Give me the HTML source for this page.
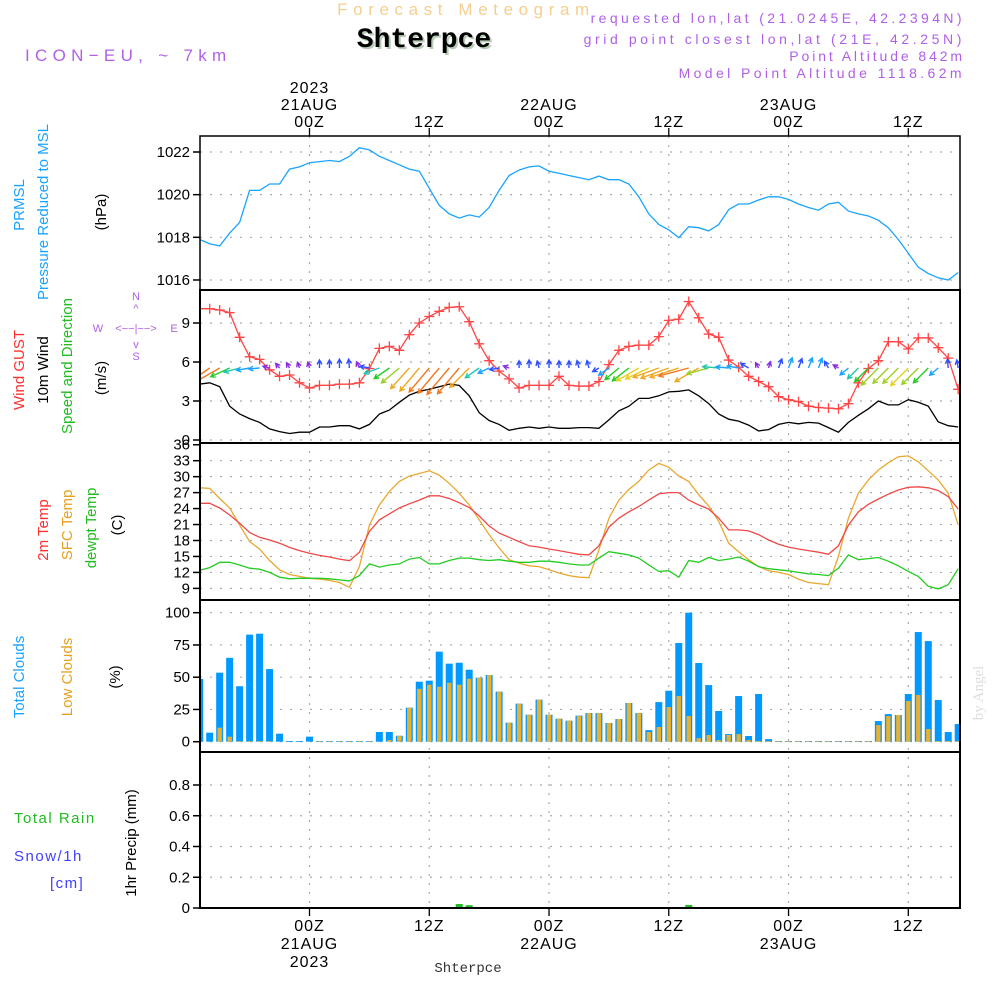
<!DOCTYPE html>
<html><head><meta charset="utf-8"><title>Forecast Meteogram Shterpce</title>
<style>
html,body{margin:0;padding:0;background:#fff;}
svg{display:block;font-family:"Liberation Sans",sans-serif;}
</style></head>
<body>
<svg id="chart" width="1000" height="1000" viewBox="0 0 1000 1000">
  <g>
    <text x="466" y="15" text-anchor="middle" font-size="17" fill="#f5cf90" letter-spacing="5.6">Forecast Meteogram</text>
    <text x="426" y="49" text-anchor="middle" font-size="28" font-weight="bold" font-family="Liberation Mono, monospace" fill="#b8ccb8">Shterpce</text>
    <text x="424" y="47" text-anchor="middle" font-size="28" font-weight="bold" font-family="Liberation Mono, monospace" fill="#000">Shterpce</text>
    <text x="25" y="61" font-size="17" fill="#b060e8" letter-spacing="5.3">ICON−EU, ~ 7km</text>
    <text x="965" y="23" text-anchor="end" font-size="14" fill="#b060e8" letter-spacing="3.4">requested lon,lat (21.0245E, 42.2394N)</text>
    <text x="965" y="44" text-anchor="end" font-size="14" fill="#b060e8" letter-spacing="3.6">grid point closest lon,lat (21E, 42.25N)</text>
    <text x="965" y="61" text-anchor="end" font-size="14" fill="#b060e8" letter-spacing="2.9">Point Altitude 842m</text>
    <text x="965" y="78" text-anchor="end" font-size="14" fill="#b060e8" letter-spacing="3.4">Model Point Altitude 1118.62m</text>
  </g>
  <g id="grid"></g>
  <g id="marks"></g>
  <g id="frames"></g>
  <g id="labels">
    <text transform="translate(24,205) rotate(-90)" text-anchor="middle" font-size="15" fill="#1aa3ff">PRMSL</text>
    <text transform="translate(48,212) rotate(-90)" text-anchor="middle" font-size="15" fill="#1aa3ff">Pressure Reduced to MSL</text>
    <text transform="translate(106,212) rotate(-90)" text-anchor="middle" font-size="15" fill="#000">(hPa)</text>
    <text transform="translate(24,370) rotate(-90)" text-anchor="middle" font-size="15" fill="#ff3030">Wind GUST</text>
    <text transform="translate(48,370) rotate(-90)" text-anchor="middle" font-size="15" fill="#000">10m Wind</text>
    <text transform="translate(72,366) rotate(-90)" text-anchor="middle" font-size="15" fill="#22bb22">Speed and Direction</text>
    <text transform="translate(106,378) rotate(-90)" text-anchor="middle" font-size="15" fill="#000">(m/s)</text>
    <g font-size="11" fill="#b060e8" text-anchor="middle">
      <text x="136" y="300">N</text><text x="136" y="312">^</text>
      <text x="136" y="332">&lt;−−|−−&gt;</text>
      <text x="98" y="332">W</text><text x="174" y="332">E</text>
      <text x="136" y="348">v</text><text x="136" y="360">S</text>
    </g>
    <text transform="translate(48,530) rotate(-90)" text-anchor="middle" font-size="15" fill="#ff3030">2m Temp</text>
    <text transform="translate(72,525) rotate(-90)" text-anchor="middle" font-size="15" fill="#e8a020">SFC Temp</text>
    <text transform="translate(96,528) rotate(-90)" text-anchor="middle" font-size="15" fill="#22bb22">dewpt Temp</text>
    <text transform="translate(122,525) rotate(-90)" text-anchor="middle" font-size="15" fill="#000">(C)</text>
    <text transform="translate(24,677) rotate(-90)" text-anchor="middle" font-size="15" fill="#1aa3ff">Total Clouds</text>
    <text transform="translate(72,677) rotate(-90)" text-anchor="middle" font-size="15" fill="#e8a020">Low Clouds</text>
    <text transform="translate(120,677) rotate(-90)" text-anchor="middle" font-size="15" fill="#000">(%)</text>
    <text x="14" y="823" font-size="15" fill="#22bb22" letter-spacing="1.5">Total  Rain</text>
    <text x="14" y="861" font-size="15" fill="#4040ff" letter-spacing="1.5">Snow/1h</text>
    <text x="50" y="888" font-size="15" fill="#4040ff" letter-spacing="1.5">[cm]</text>
    <text transform="translate(136,843) rotate(-90)" text-anchor="middle" font-size="15" fill="#000">1hr Precip (mm)</text>
    <text x="468" y="972" text-anchor="middle" font-size="14" font-family="Liberation Mono, monospace" fill="#333">Shterpce</text>
    <text transform="translate(983,693) rotate(-90)" text-anchor="middle" font-size="15" font-family="Liberation Serif, serif" fill="#ddd">by Angel</text>
  </g>
</svg>
<script>
const hourStart = -11;
const timeTickHours = [0, 12, 24, 36, 48, 60];
const timeTickTop = [["2023","21AUG","00Z"],["12Z"],["22AUG","00Z"],["12Z"],["23AUG","00Z"],["12Z"]];
const timeTickBottom = [["00Z","21AUG","2023"],["12Z"],["00Z","22AUG"],["12Z"],["00Z","23AUG"],["12Z"]];
const pressureTicks = [1016, 1018, 1020, 1022];
const windTicks = [0, 3, 6, 9];
const tempTicks = [9, 12, 15, 18, 21, 24, 27, 30, 33, 36];
const cloudTicks = [0, 25, 50, 75, 100];
const precipTicks = [0, 0.2, 0.4, 0.6, 0.8];
const pressure = [1017.9,1017.7,1017.6,1018.2,1018.7,1020.2,1020.2,1020.5,1020.5,1021.2,1021.3,1021.5,1021.55,1021.6,1021.55,1021.8,1022.2,1022.1,1021.8,1021.6,1021.4,1021.2,1021.1,1020.3,1019.5,1019.1,1018.9,1019.05,1018.95,1019.4,1020.2,1020.9,1021.15,1021.3,1021.35,1021.1,1021.0,1020.9,1020.8,1020.7,1020.87,1020.7,1020.7,1020.5,1019.9,1019.1,1018.6,1018.35,1017.98,1018.5,1018.45,1018.3,1018.6,1019.3,1019.56,1019.56,1019.75,1019.9,1019.9,1019.78,1019.56,1019.4,1019.27,1019.56,1019.64,1019.23,1019.1,1019.0,1018.8,1018.45,1017.9,1017.25,1016.6,1016.3,1016.1,1016.0,1016.35];
const windGust = [10.1,10.1,10.0,9.8,7.9,6.4,6.2,5.4,4.9,5.0,4.4,4.0,4.2,4.2,4.3,4.3,4.4,5.5,7.05,7.2,6.9,8.1,9.0,9.5,9.9,10.2,10.25,9.1,7.4,6.1,5.3,4.7,4.0,4.2,4.2,4.2,4.9,4.2,4.15,4.15,4.5,5.8,6.9,7.2,7.3,7.3,7.95,9.2,9.3,10.65,9.4,8.15,7.9,6.15,5.6,4.9,4.5,4.1,3.33,3.1,2.95,2.6,2.5,2.45,2.4,2.8,4.4,5.5,6.1,7.56,7.56,7.0,7.85,7.85,7.1,6.3,3.9];
const windSpeed = [4.3,4.4,4.1,2.6,2.0,1.65,1.35,0.85,0.65,0.5,0.6,0.6,1.0,1.0,1.1,1.1,0.85,1.2,2.0,2.3,2.9,3.45,3.75,3.9,4.1,4.3,4.2,3.4,2.1,1.5,1.2,0.75,0.9,1.0,0.9,1.0,0.9,0.9,0.95,0.95,0.9,1.55,2.25,2.6,3.2,3.2,3.4,3.7,3.75,3.85,3.4,2.8,2.0,1.6,1.45,1.15,0.7,0.8,1.2,1.35,1.25,1.35,1.3,0.95,0.6,1.35,1.9,2.4,3.0,2.7,2.7,3.1,2.9,2.6,1.4,1.1,1.0];
const windDirTo = [235,235,240,245,255,260,265,285,320,330,340,345,0,0,0,355,335,280,250,235,230,222,220,220,220,220,220,225,235,245,260,290,0,0,345,0,0,0,345,345,240,235,230,232,240,245,250,250,252,255,240,255,275,275,280,300,330,15,20,20,20,20,20,330,300,230,225,225,225,225,225,225,225,225,230,355,350];
const temp2m = [25.0,25.0,24.1,22.8,21.25,19.5,18.6,18.1,17.5,16.7,16.1,15.6,15.2,14.9,14.5,14.2,15.8,19.7,21.9,23.0,24.1,24.9,25.6,26.4,26.4,25.9,25.1,24.2,22.6,20.75,19.4,18.6,17.8,17.0,16.75,16.4,16.1,15.75,15.4,15.3,17.0,20.5,22.2,23.4,24.4,25.6,26.75,27.0,27.0,25.6,24.7,23.9,22.2,20.0,20.0,19.8,19.1,18.1,17.3,16.75,16.4,16.1,15.8,15.4,17.0,20.9,23.4,24.8,25.8,26.7,27.5,28.0,28.1,27.9,27.4,26.25,23.9];
const tempSfc = [27.9,27.8,25.9,24.1,20.9,17.8,16.4,14.25,12.5,11.6,11.25,10.9,10.75,10.5,10.1,9.2,13.1,20.9,24.7,27.2,29.1,30.1,30.6,31.1,30.3,28.75,26.9,24.7,21.9,19.1,16.6,14.4,13.75,13.25,13.1,12.5,11.9,11.4,11.1,11.0,16.25,22.2,25.6,27.6,29.1,31.25,32.5,31.75,30.1,29.1,26.6,24.5,21.6,17.5,15.9,14.4,13.1,12.3,12.0,11.6,10.75,10.1,9.9,9.7,15.0,22.2,26.9,29.4,31.25,32.6,33.75,33.9,32.8,31.1,29.4,26.9,20.9];
const dewpoint = [12.4,12.9,13.9,13.9,13.4,12.8,12.6,12.0,11.1,10.8,10.9,10.9,10.9,10.8,10.6,10.4,11.4,13.6,13.0,13.4,13.6,14.5,14.8,13.6,13.6,14.25,14.7,14.7,14.4,14.25,14.4,14.1,13.9,13.9,14.1,14.1,13.9,13.6,13.4,13.4,14.7,15.9,15.6,15.3,14.7,13.4,12.2,12.3,11.1,14.25,13.9,14.8,14.25,14.5,14.9,14.1,13.1,12.7,12.5,12.3,12.0,11.75,11.6,11.4,12.8,15.3,14.4,14.6,14.8,14.1,13.25,12.2,11.25,9.4,8.9,9.7,12.7];
const totalClouds = [48.6,7,53.5,65,43,83,83.7,56.3,6.2,0.5,0.5,3.9,0.5,0.5,0.5,0.5,0.5,0.5,7.5,7.5,4.6,26.4,46.5,47.3,69.8,60.5,61.2,55.8,49.6,51.7,38.8,14.7,29.5,20.9,32.6,20.9,17.8,16.3,20.2,22.2,22.2,14.5,17.6,30,22.2,9,30.7,39.5,76.5,100,61,43.9,23.8,5.9,35.4,4.4,37,2,0.5,0.5,0.5,0.5,0.5,0.5,0.5,0.5,0.5,0.5,16,21.4,20.7,37,85,78,32.3,7.5,13.7];
const lowClouds = [0,0,10.9,3.9,0.5,0.5,0.5,0.5,0,0,0,0,0.5,0.5,0.5,0.5,0.5,0.5,0,1.3,4.6,26.4,41,44.2,42.6,45.7,44.2,48.8,49.6,51.7,38.8,14.7,29.5,20.9,32.6,20.9,17.8,16.3,19.9,22.2,22.2,14.5,17.6,30,22.2,7.5,11.4,26.9,35.4,19.9,2.8,5.2,1.3,5.2,5.9,1.3,0.5,0.5,0.5,0.5,0.5,0.5,0.5,0.5,0.5,0.5,0.5,0.5,12.9,19.9,20.7,31.5,36.2,9.8,0.5,0.5,0.5];
const precip = [0,0,0,0,0,0,0,0,0,0,0,0,0,0,0,0,0,0,0,0,0,0,0.006,0,0,0,0.026,0.018,0,0,0,0,0,0,0,0,0,0,0,0,0,0,0,0,0,0,0,0,0,0.02,0,0,0,0,0,0,0,0,0,0,0,0,0,0,0,0,0,0,0,0,0,0,0,0,0,0,0];

const NS='http://www.w3.org/2000/svg';
const L=200, R=960;
const panels=[[136,290],[290,443],[443,600],[600,752],[752,908]];
function X(i){return 309.5+9.98*(i+hourStart);}
function XH(h){return 309.5+9.98*h;}
function yP(v){return 152+(1022-v)*21.33;}
function yW(v){return 440-13*v;}
function yT(v){return 460.7+(33-v)*5.32;}
function yC(v){return 741.7-1.29*v;}
function yR(v){return 908-153.75*v;}
function mk(tag,attrs,parent){const e=document.createElementNS(NS,tag);for(const k in attrs)e.setAttribute(k,attrs[k]);parent.appendChild(e);return e;}
const grid=document.getElementById('grid'), marks=document.getElementById('marks'), frames=document.getElementById('frames'), labels=document.getElementById('labels');

const defs=mk('defs',{},document.getElementById('chart'));
panels.forEach((p,k)=>{const c=mk('clipPath',{id:'clip'+k},defs);mk('rect',{x:L,y:p[0],width:R-L,height:p[1]-p[0]},c);});

timeTickHours.forEach(h=>{
  const g=mk('line',{x1:XH(h),x2:XH(h),y1:136,y2:908,stroke:'#aaa','stroke-width':1.2,'stroke-dasharray':'2,7'},grid);
  
  
});
function hgrid(ticks,fy,k,fmt){
  ticks.forEach(t=>{
    const y=fy(t);
    if(y>panels[k][0]+2&&y<panels[k][1]-2){
      const g=mk('line',{x1:L,x2:R,y1:y,y2:y,stroke:'#aaa','stroke-width':1.2,'stroke-dasharray':'2,8'},grid);
      
      
    }
    if(y>=panels[k][0]-4&&y<=panels[k][1]+2){
      const tk=mk('line',{x1:L-7,x2:L,y1:y,y2:y,stroke:'#000','stroke-width':1.5},frames);
      
      
      const tx=mk('text',{x:L-10,y:y+5,'text-anchor':'end','font-size':15,fill:'#000'},labels);
      tx.textContent=fmt?fmt(t):String(t);
      
      
    }
  });
}
hgrid(pressureTicks,yP,0);
hgrid(windTicks,yW,1);
hgrid(tempTicks,yT,2);
hgrid(cloudTicks,yC,3);
hgrid(precipTicks,yR,4,t=>t===0?'0':t.toFixed(1));

function line(arr,fy,color,k,name,w){
  const d=arr.map((v,i)=>(i?'L':'M')+X(i).toFixed(1)+','+fy(v).toFixed(1)).join('');
  const p=mk('path',{d:d,fill:'none',stroke:color,'stroke-width':w||1.3,'clip-path':'url(#clip'+k+')'},marks);
  
  
}
line(pressure,yP,'#1aa3ff',0,'pressure-line');
line(windSpeed,yW,'#000',1,'wind-speed-line');
line(windGust,yW,'#ff4545',1,'wind-gust-line');
windGust.forEach((v,i)=>{
  const x=X(i),y=yW(v);
  const c=mk('path',{d:`M${x-5},${y}H${x+5}M${x},${y-5}V${y+5}`,stroke:'#ff4545','stroke-width':1.3,'clip-path':'url(#clip1)'},marks);
  
  
});
function spdColor(s){
  if(s<0.9)return '#8a2be2'; if(s<1.3)return '#3050ff'; if(s<1.7)return '#1aa3ff';
  if(s<2.2)return '#20c8b0'; if(s<2.7)return '#22cc22'; if(s<3.1)return '#9ad020';
  if(s<3.4)return '#e8d020'; if(s<3.8)return '#f0a820'; return '#f07820';
}
windDirTo.forEach((dir,i)=>{
  const s=windSpeed[i], len=Math.max(6,8*s), a=dir*Math.PI/180;
  const x0=X(i), y0=368, x1=x0+len*Math.sin(a), y1=y0-len*Math.cos(a);
  const ha=0.5, hl=5, col=spdColor(s);
  const bx=-Math.sin(a), by=Math.cos(a);
  const p1x=x1+hl*(bx*Math.cos(ha)-by*Math.sin(ha)), p1y=y1+hl*(by*Math.cos(ha)+bx*Math.sin(ha));
  const p2x=x1+hl*(bx*Math.cos(-ha)-by*Math.sin(-ha)), p2y=y1+hl*(by*Math.cos(-ha)+bx*Math.sin(-ha));
  const ar=mk('path',{d:`M${x0},${y0}L${x1},${y1}M${p1x},${p1y}L${x1},${y1}L${p2x},${p2y}`,stroke:col,'stroke-width':1.4,fill:'none','clip-path':'url(#clip1)'},marks);
  
  
});
line(tempSfc,yT,'#e8a830',2,'sfc-temp-line');
line(temp2m,yT,'#f04848',2,'temp-2m-line');
line(dewpoint,yT,'#22cc22',2,'dewpoint-line');
totalClouds.forEach((v,i)=>{
  const y=yC(v);
  const b=mk('rect',{x:X(i)-3.5,y:y,width:7,height:Math.max(0.8,yC(0)-y),fill:'#0099ff','clip-path':'url(#clip3)'},marks);
  
  
});
lowClouds.forEach((v,i)=>{
  if(v<=0)return;
  const y=yC(v);
  const b=mk('rect',{x:X(i)-2.2,y:y,width:4.4,height:Math.max(0.6,yC(0)-y),fill:'#e8b030','clip-path':'url(#clip3)'},marks);
  
  
});
precip.forEach((v,i)=>{
  if(v<=0)return;
  const y=yR(v);
  const b=mk('rect',{x:X(i)-3.5,y:y,width:7,height:yR(0)-y,fill:'#22bb22','clip-path':'url(#clip4)'},marks);
  
  
});
const base=mk('line',{x1:L,x2:R,y1:908,y2:908,stroke:'#000','stroke-width':2},frames);



panels.forEach((p,k)=>{
  const r=mk('rect',{x:L,y:p[0],width:R-L,height:p[1]-p[0],fill:'none',stroke:'#000','stroke-width':k===0?1.5:2},frames);
  
  
});
timeTickHours.forEach((h,j)=>{
  const x=XH(h);
  const t1=mk('line',{x1:x,x2:x,y1:128,y2:136,stroke:'#000','stroke-width':1.3},frames);
  
  
  const t2=mk('line',{x1:x,x2:x,y1:908,y2:916,stroke:'#000','stroke-width':1.3},frames);
  
  
  const top=timeTickTop[j];
  top.forEach((s,m)=>{
    const tx=mk('text',{x:x,y:127-(top.length-1-m)*17,'text-anchor':'middle','font-size':16,fill:'#000','letter-spacing':1},labels);
    tx.textContent=s;
    
    
  });
  timeTickBottom[j].forEach((s,m)=>{
    const tx=mk('text',{x:x,y:931+m*18,'text-anchor':'middle','font-size':16,fill:'#000','letter-spacing':1},labels);
    tx.textContent=s;
    
    
  });
});
</script>
</body></html>
